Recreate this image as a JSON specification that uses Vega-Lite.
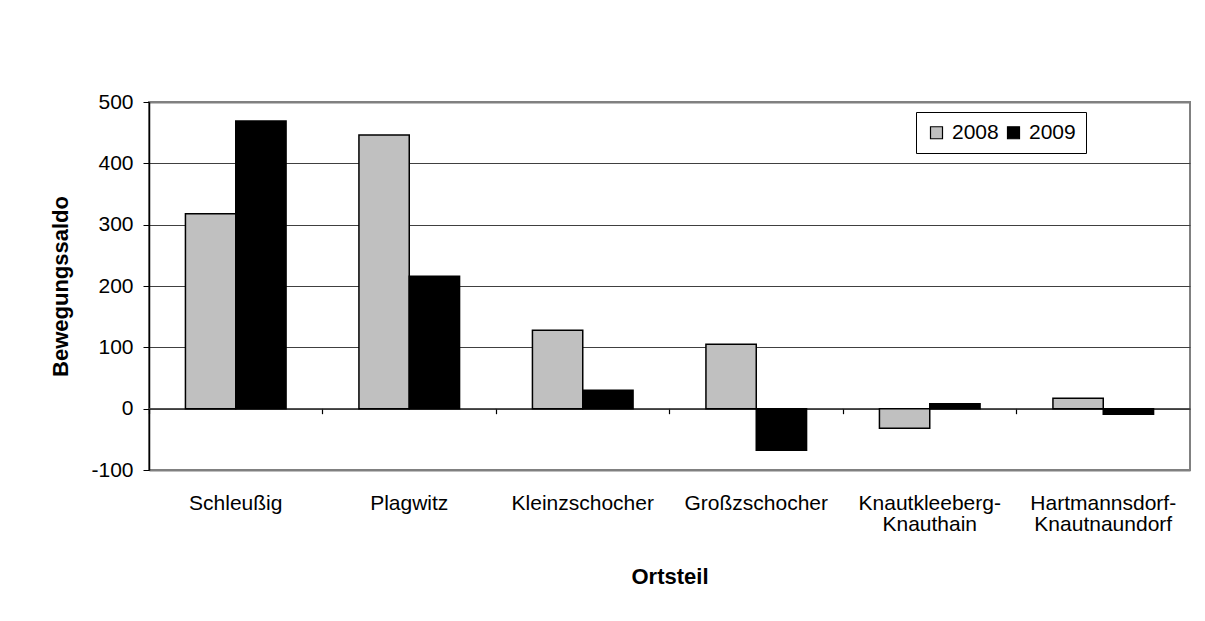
{
  "$schema": "https://vega.github.io/schema/vega-lite/v6.json",
  "autosize": "none",
  "width": 1041,
  "height": 368,
  "padding": {"left": 149, "top": 102, "right": 15, "bottom": 151},
  "background": "white",
  "config": {
    "font": "Liberation Sans",
    "view": {"stroke": "#808080", "strokeWidth": 2},
    "axis": {"labelFont": "Liberation Sans", "titleFont": "Liberation Sans", "labelColor": "black", "titleColor": "black"}
  },
  "data": {
    "values": [
      {"Ortsteil": "Schleußig", "Jahr": "2008", "Saldo": 318},
      {"Ortsteil": "Schleußig", "Jahr": "2009", "Saldo": 469},
      {"Ortsteil": "Plagwitz", "Jahr": "2008", "Saldo": 446},
      {"Ortsteil": "Plagwitz", "Jahr": "2009", "Saldo": 216},
      {"Ortsteil": "Kleinzschocher", "Jahr": "2008", "Saldo": 128},
      {"Ortsteil": "Kleinzschocher", "Jahr": "2009", "Saldo": 30},
      {"Ortsteil": "Großzschocher", "Jahr": "2008", "Saldo": 105},
      {"Ortsteil": "Großzschocher", "Jahr": "2009", "Saldo": -68},
      {"Ortsteil": "Knautkleeberg-Knauthain", "Jahr": "2008", "Saldo": -32},
      {"Ortsteil": "Knautkleeberg-Knauthain", "Jahr": "2009", "Saldo": 8},
      {"Ortsteil": "Hartmannsdorf-Knautnaundorf", "Jahr": "2008", "Saldo": 17},
      {"Ortsteil": "Hartmannsdorf-Knautnaundorf", "Jahr": "2009", "Saldo": -9}
    ]
  },
  "resolve": {"axis": {"x": "independent"}},
  "layer": [
    {
      "mark": {"type": "tick", "color": "#404040", "thickness": 1.2, "orient": "horizontal", "size": 174},
      "encoding": {
        "x": {
          "field": "Ortsteil", "type": "nominal", "sort": null,
          "scale": {"paddingInner": 0.42, "paddingOuter": 0.21},
          "axis": {
            "orient": "bottom", "offset": -61.33, "labels": false, "title": null, "domain": false,
            "grid": false, "ticks": true, "bandPosition": -0.362, "tickSize": 5, "tickColor": "black", "tickWidth": 1.2
          }
        },
        "y": {"datum": 0}
      }
    },
    {
      "mark": {"type": "bar", "stroke": "black", "strokeWidth": 1.5},
      "encoding": {
        "x": {
          "field": "Ortsteil", "type": "nominal", "sort": null,
          "axis": {
            "orient": "bottom", "title": "Ortsteil", "titleFontSize": 22, "titleFontWeight": "bold",
            "titlePadding": 32, "labelAngle": 0, "labelFontSize": 21, "labelPadding": 22,
            "labelLineHeight": 21, "ticks": false, "domain": false, "grid": false,
            "labelExpr": "indexof(datum.label, '-') > 0 ? [slice(datum.label, 0, indexof(datum.label, '-') + 1), slice(datum.label, indexof(datum.label, '-') + 1)] : datum.label"
          }
        },
        "xOffset": {"field": "Jahr", "type": "nominal"},
        "y": {
          "field": "Saldo", "type": "quantitative",
          "scale": {"domain": [-100, 500], "nice": false},
          "axis": {
            "title": "Bewegungssaldo", "titleFontSize": 22, "titleFontWeight": "bold", "titlePadding": 18,
            "values": [-100, 0, 100, 200, 300, 400, 500], "labelFontSize": 21, "labelPadding": 10,
            "labelExpr": "toString(datum.value)",
            "tickSize": 6, "tickColor": "black", "domainColor": "black", "domainWidth": 1.5,
            "grid": true,
            "gridColor": {"condition": {"test": "datum.value == 500 || datum.value == -100", "value": "#808080"}, "value": "#404040"},
            "gridWidth": {"condition": {"test": "datum.value == 500 || datum.value == -100", "value": 2}, "value": 1.2}
          }
        },
        "color": {
          "field": "Jahr", "type": "nominal",
          "scale": {"domain": ["2008", "2009"], "range": ["#C0C0C0", "#000000"]},
          "legend": {
            "orient": "none", "legendX": 767, "legendY": 10, "direction": "horizontal",
            "title": null, "symbolType": "square", "symbolSize": 144, "symbolStrokeColor": "black",
            "symbolStrokeWidth": 1.2, "labelFontSize": 21, "labelFont": "Liberation Sans", "labelColor": "black",
            "labelOffset": 5, "columnPadding": 4, "padding": 10, "strokeColor": "black", "fillColor": "white"
          }
        }
      }
    }
  ]
}
